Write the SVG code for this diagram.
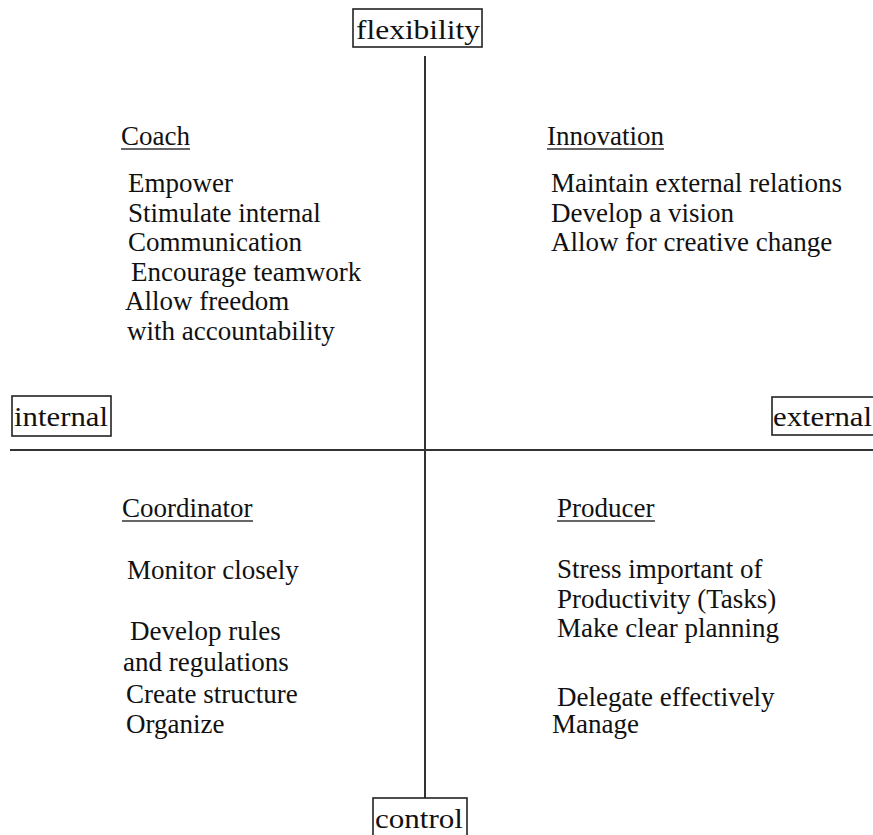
<svg xmlns="http://www.w3.org/2000/svg" width="873" height="835" viewBox="0 0 873 835">
<style>
text{font-family:"Liberation Serif","Times New Roman",serif;fill:#111}
.t{font-size:27px}
.h{font-size:27px}
.big{font-size:28px}
.box{fill:none;stroke:#222;stroke-width:1.6}
.axis{stroke:#333;stroke-width:2;fill:none}
.ul{stroke:#333;stroke-width:1.4}
</style>
<rect width="873" height="835" fill="#fff"/>
<g id="axes">
<line class="axis" x1="425" y1="56" x2="425" y2="798"/>
<line class="axis" x1="10" y1="450" x2="873" y2="450"/>
</g>
<g id="flexibility">
<rect class="box" x="353" y="9" width="129" height="38"/>
<text class="big" x="356" y="39" textLength="124" lengthAdjust="spacingAndGlyphs">flexibility</text>
</g>
<g id="internal">
<rect class="box" x="12" y="396" width="99" height="40"/>
<text class="big" x="14" y="426" textLength="94" lengthAdjust="spacingAndGlyphs">internal</text>
</g>
<g id="external">
<rect class="box" x="772" y="397" width="104" height="38"/>
<text class="big" x="773" y="426" textLength="99" lengthAdjust="spacingAndGlyphs">external</text>
</g>
<g id="control">
<rect class="box" x="373" y="798" width="94" height="40"/>
<text class="big" x="375" y="828" textLength="88" lengthAdjust="spacingAndGlyphs">control</text>
</g>
<g id="coach">
<text class="h" x="121" y="145">Coach</text>
<line class="ul" x1="121" y1="149" x2="190" y2="149"/>
<text class="t" x="128" y="192">Empower</text>
<text class="t" x="128" y="222">Stimulate internal</text>
<text class="t" x="128" y="251">Communication</text>
<text class="t" x="131" y="281">Encourage teamwork</text>
<text class="t" x="125" y="310">Allow freedom</text>
<text class="t" x="127" y="340">with accountability</text>
</g>
<g id="innovation">
<text class="h" x="547" y="145">Innovation</text>
<line class="ul" x1="547" y1="149" x2="664" y2="149"/>
<text class="t" x="551" y="192">Maintain external relations</text>
<text class="t" x="551" y="222">Develop a vision</text>
<text class="t" x="551" y="251">Allow for creative change</text>
</g>
<g id="coordinator">
<text class="h" x="122" y="517">Coordinator</text>
<line class="ul" x1="122" y1="521" x2="253" y2="521"/>
<text class="t" x="127" y="579">Monitor closely</text>
<text class="t" x="130" y="640">Develop rules</text>
<text class="t" x="123" y="671">and regulations</text>
<text class="t" x="126" y="703">Create structure</text>
<text class="t" x="126" y="733">Organize</text>
</g>
<g id="producer">
<text class="h" x="557" y="517">Producer</text>
<line class="ul" x1="557" y1="521" x2="655" y2="521"/>
<text class="t" x="557" y="578">Stress important of</text>
<text class="t" x="557" y="608">Productivity (Tasks)</text>
<text class="t" x="557" y="637">Make clear planning</text>
<text class="t" x="557" y="706">Delegate effectively</text>
<text class="t" x="552" y="733">Manage</text>
</g>
</svg>
